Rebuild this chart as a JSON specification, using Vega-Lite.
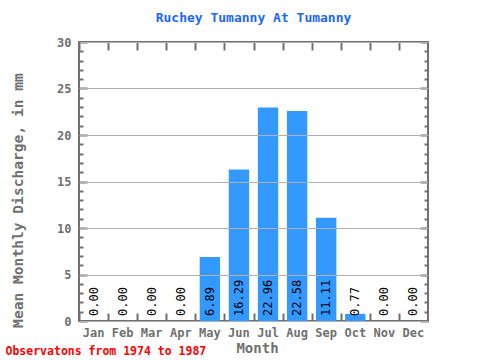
{
  "$schema": "https://vega.github.io/schema/vega-lite/v6.json",
  "width": 349,
  "height": 279,
  "autosize": {"type": "none"},
  "padding": {"left": 79, "top": 42, "right": 52, "bottom": 39},
  "title": {"text": "Ruchey Tumanny At Tumanny", "font": "DejaVu Sans Mono", "fontSize": 13, "fontWeight": "bold", "color": "#1a66ff", "offset": 11, "anchor": "middle"},
  "config": {
    "view": {"stroke": "#707070", "strokeWidth": 2},
    "axis": {"labelFont": "DejaVu Sans Mono", "titleFont": "DejaVu Sans Mono", "labelColor": "#707070", "titleColor": "#707070", "labelFontWeight": "bold", "titleFontWeight": "bold", "domain": false, "ticks": false, "grid": false, "labels": false, "tickColor": "#707070", "tickWidth": 2}
  },
  "data": {"values": [
    {"month": "Jan", "value": 0.00},
    {"month": "Feb", "value": 0.00},
    {"month": "Mar", "value": 0.00},
    {"month": "Apr", "value": 0.00},
    {"month": "May", "value": 6.89},
    {"month": "Jun", "value": 16.29},
    {"month": "Jul", "value": 22.96},
    {"month": "Aug", "value": 22.58},
    {"month": "Sep", "value": 11.11},
    {"month": "Oct", "value": 0.77},
    {"month": "Nov", "value": 0.00},
    {"month": "Dec", "value": 0.00}
  ]},
  "layer": [
    {
      "mark": {"type": "bar", "color": "#3399ff"},
      "encoding": {
        "x": {"field": "month", "type": "nominal", "sort": null, "scale": {"paddingInner": 0.3, "paddingOuter": 0.15},
          "axis": {"orient": "bottom", "labels": true, "labelAngle": 0, "labelFontSize": 12, "labelPadding": 6, "title": "Month", "titleFontSize": 14, "titleX": 178, "titleY": 27, "titleBaseline": "middle"}},
        "y": {"field": "value", "type": "quantitative", "scale": {"domain": [0, 30], "nice": false},
          "axis": {"orient": "left", "labels": true, "labelFontSize": 12, "labelPadding": 8, "values": [0, 5, 10, 15, 20, 25, 30], "grid": true, "gridColor": "#b0b0b0", "gridWidth": 1, "zindex": 1, "title": "Mean Monthly Discharge, in mm", "titleFontSize": 14.6, "titleX": -61, "titleY": 158, "titleBaseline": "middle"}}
      }
    },
    {
      "mark": {"type": "text", "angle": 270, "align": "left", "baseline": "middle", "dx": 5, "font": "DejaVu Sans Mono", "fontSize": 12, "color": "#000000"},
      "encoding": {
        "x": {"field": "month", "type": "nominal", "sort": null, "axis": null},
        "y": {"datum": 0, "type": "quantitative", "axis": null},
        "text": {"field": "value", "type": "quantitative", "format": ".2f"}
      }
    },
    {
      "mark": {"type": "text"},
      "encoding": {
        "x": {"field": "month", "type": "nominal", "sort": null, "axis": {"orient": "top", "title": null, "ticks": true, "tickSize": 8, "offset": -8, "tickOffset": -14.54}},
        "y": {"field": "value", "type": "quantitative", "axis": {"orient": "right", "title": null, "ticks": true, "tickSize": 8, "offset": -8, "values": [0, 5, 10, 15, 20, 25, 30]}},
        "text": {"value": ""}
      }
    },
    {
      "mark": {"type": "text"},
      "encoding": {
        "x": {"field": "month", "type": "nominal", "sort": null, "axis": {"orient": "bottom", "ticks": true, "tickSize": 8, "offset": -8, "tickOffset": -14.54, "title": "Observatons from 1974 to 1987", "titleColor": "#ff0000", "titleFontSize": 11.5, "titleX": -74, "titleY": 38, "titleAlign": "left", "titleBaseline": "middle"}},
        "y": {"field": "value", "type": "quantitative", "axis": {"orient": "left", "title": null, "ticks": true, "tickSize": 8, "offset": -8, "values": [0, 5, 10, 15, 20, 25, 30]}},
        "text": {"value": ""}
      }
    },
    {
      "mark": {"type": "text"},
      "encoding": {
        "x": {"field": "month", "type": "nominal", "sort": null, "axis": null},
        "y": {"field": "value", "type": "quantitative", "axis": {"orient": "left", "title": null, "ticks": true, "tickSize": 4, "offset": -4, "values": [1, 2, 3, 4, 6, 7, 8, 9, 11, 12, 13, 14, 16, 17, 18, 19, 21, 22, 23, 24, 26, 27, 28, 29]}},
        "text": {"value": ""}
      }
    },
    {
      "mark": {"type": "text"},
      "encoding": {
        "x": {"field": "month", "type": "nominal", "sort": null, "axis": null},
        "y": {"field": "value", "type": "quantitative", "axis": {"orient": "right", "title": null, "ticks": true, "tickSize": 4, "offset": -4, "values": [1, 2, 3, 4, 6, 7, 8, 9, 11, 12, 13, 14, 16, 17, 18, 19, 21, 22, 23, 24, 26, 27, 28, 29]}},
        "text": {"value": ""}
      }
    }
  ],
  "resolve": {"axis": {"x": "independent", "y": "independent"}}
}
